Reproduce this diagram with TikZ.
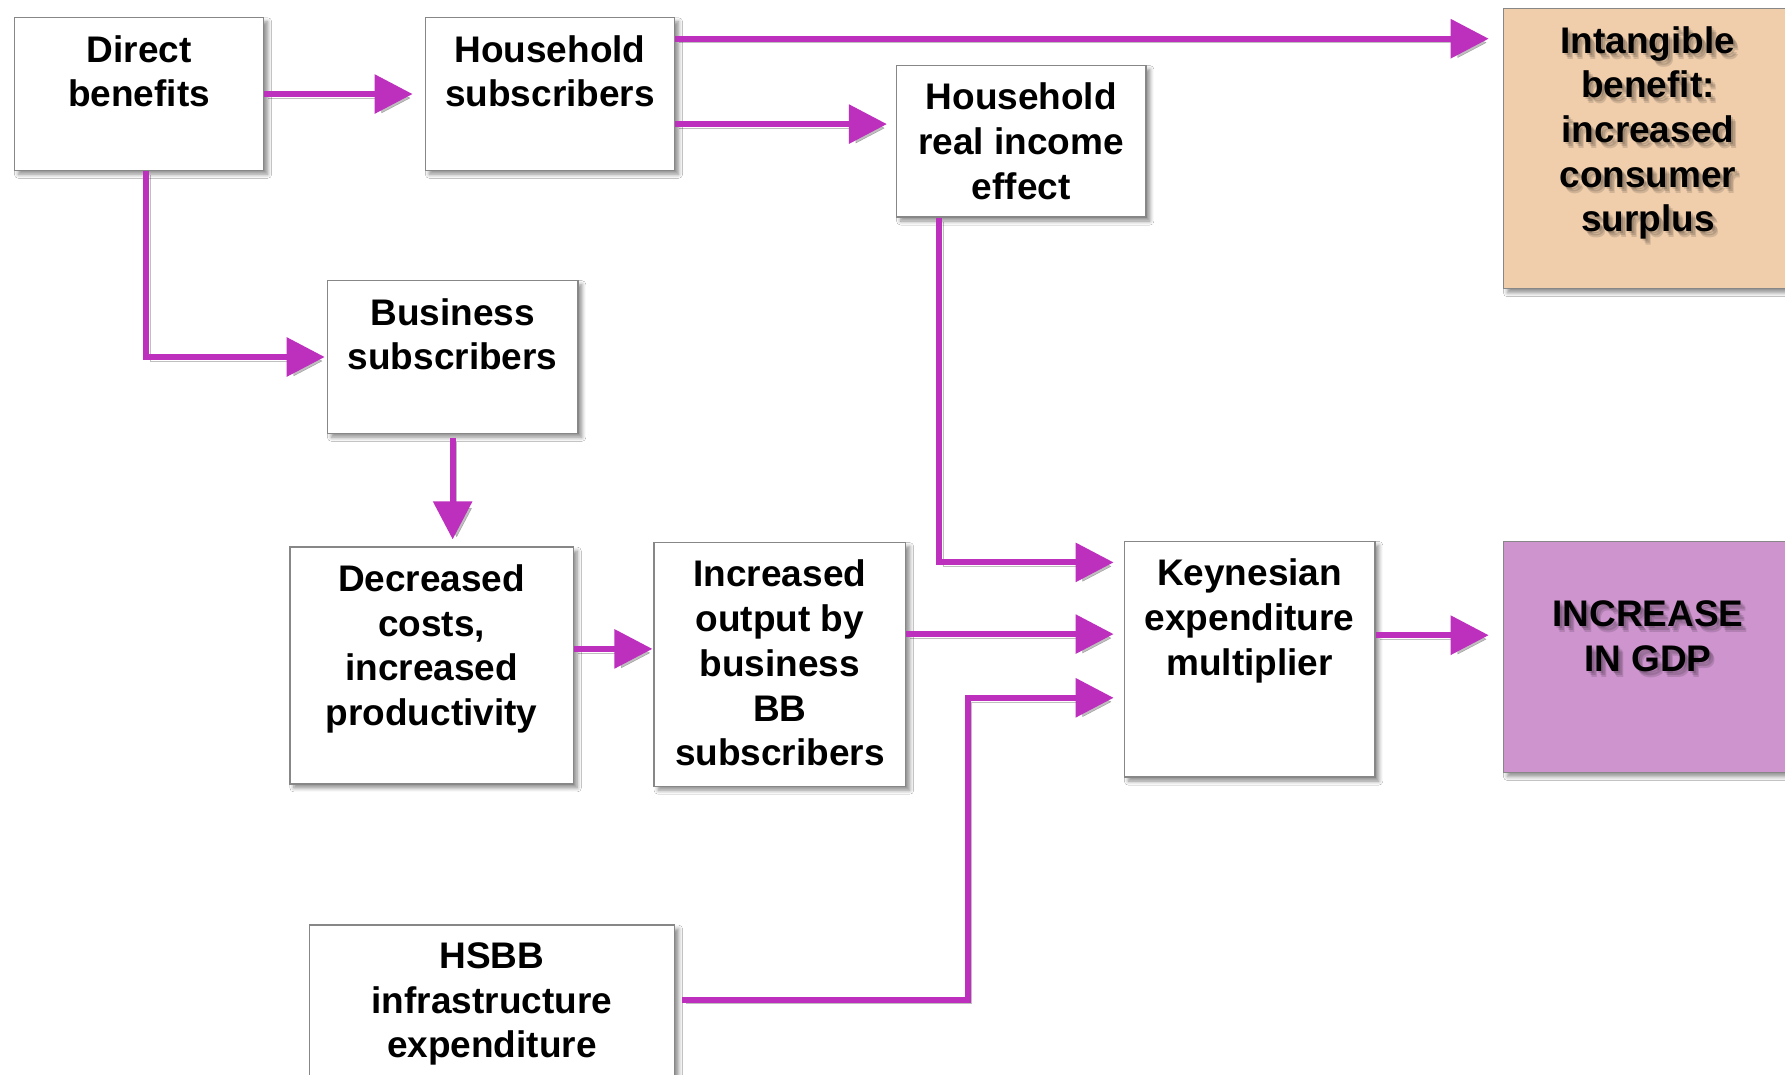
\documentclass[tikz,border=0pt]{standalone}
\usepackage{fontspec}
\setmainfont{Liberation Sans}
\usetikzlibrary{arrows.meta,shadows,shadows.blur}
\definecolor{arr}{RGB}{189,47,189}
\definecolor{tanfill}{RGB}{240,206,172}
\definecolor{gdpfill}{RGB}{205,148,205}
\definecolor{edgec}{RGB}{135,135,135}
\begin{document}
\begin{tikzpicture}[x=1pt,y=-1pt,
  box/.style={draw=edgec, line width=1.4pt, fill=white, inner sep=0pt, anchor=north west,
    blur shadow={shadow xshift=4pt, shadow yshift=-4pt, shadow blur radius=4pt,
      shadow blur steps=6, shadow opacity=45}},
  txt/.style={font=\bfseries\fontsize{37}{44.7}\selectfont, align=center, inner sep=0pt, anchor=north},
  txtshadow/.style={txt, text=black, opacity=0.13},
  arrow/.style={draw=arr, line width=6pt, -{Triangle[length=38pt,width=38pt]},
    preaction={draw=black, opacity=0.25, transform canvas={shift={(4pt,-4pt)}}}}
]
\useasboundingbox (0,0) rectangle (1785,1075);
\clip (0,0) rectangle (1785,1075);
\fill[white] (0,0) rectangle (1785,1075);

% boxes
\node[box, minimum width=249.3pt, minimum height=152.5pt] (db) at (13.7,17.1) {};
\node[box, minimum width=249.3pt, minimum height=152.5pt] (hs) at (424.6,17.1) {};
\node[box, minimum width=249.3pt, minimum height=151.4pt] (ri) at (895.9,64.9) {};
\node[box, fill=tanfill, minimum width=289pt, minimum height=280pt] (ib) at (1502.7,8) {};
\node[box, minimum width=250.5pt, minimum height=152.6pt] (bs) at (326.7,280) {};
\node[box, minimum width=283.4pt, minimum height=236.8pt] (dc) at (289.2,546.4) {};
\node[box, minimum width=251.6pt, minimum height=243.6pt] (io) at (653.4,541.9) {};
\node[box, minimum width=250.5pt, minimum height=235.7pt] (ky) at (1123.6,540.7) {};
\node[box, fill=gdpfill, minimum width=289pt, minimum height=231.1pt] (gdp) at (1502.7,540.7) {};
\node[box, minimum width=365.4pt, minimum height=170pt] (hb) at (308.5,924.4) {};

% texts
\node[txt] (dbt) at ([yshift=-18pt]db.north) {Direct\\benefits};
\node[txt] (hst) at ([yshift=-18pt]hs.north) {Household\\subscribers};
\node[txt] (rit) at ([yshift=-18pt]ri.north) {Household\\real income\\effect};
\node[txtshadow] (ibs1) at ([xshift=2pt,yshift=-20pt]ib.north) {Intangible\\benefit:\\increased\\consumer\\surplus};
\node[txtshadow] (ibs2) at ([xshift=4pt,yshift=-22pt]ib.north) {Intangible\\benefit:\\increased\\consumer\\surplus};
\node[txtshadow] (ibs3) at ([xshift=5pt,yshift=-24pt]ib.north) {Intangible\\benefit:\\increased\\consumer\\surplus};
\node[txt] (ibt) at ([yshift=-18pt]ib.north) {Intangible\\benefit:\\increased\\consumer\\surplus};
\node[txt] (bst) at ([yshift=-18pt]bs.north) {Business\\subscribers};
\node[txt] (dct) at ([yshift=-18pt]dc.north) {Decreased\\costs,\\increased\\productivity};
\node[txt] (iot) at ([yshift=-18pt]io.north) {Increased\\output by\\business\\BB\\subscribers};
\node[txt] (kyt) at ([yshift=-18pt]ky.north) {Keynesian\\expenditure\\multiplier};
\node[txtshadow] (gdps1) at ([xshift=2pt,yshift=-62pt]gdp.north) {INCREASE\\IN GDP};
\node[txtshadow] (gdps2) at ([xshift=4pt,yshift=-64pt]gdp.north) {INCREASE\\IN GDP};
\node[txtshadow] (gdps3) at ([xshift=5pt,yshift=-66pt]gdp.north) {INCREASE\\IN GDP};
\node[txt] (gdpt) at ([yshift=-60pt]gdp.north) {INCREASE\\IN GDP};
\node[txt] (hbt) at ([yshift=-18pt]hb.north) {HSBB\\infrastructure\\expenditure};

% connectors
\draw[arrow, shorten >=12pt] (db.east) -- (db.east -| hs.west);
\draw[arrow, shorten >=14pt] (hs.east |- 0,38.7) -- (ib.west |- 0,38.7);
\draw[arrow, shorten >=9pt] (hs.east |- 0,124.1) -- (ri.west |- 0,124.1);
\draw[arrow, shorten >=2pt] (db.south -| 145.7,0) |- (bs.west);
\draw[arrow, shorten <=4pt, shorten >=7pt] (bs.south) -- (bs.south |- dc.north);
\draw[arrow, shorten >=10pt] (ri.south -| 939.2,0) |- (ky.west |- 0,562.4);
\draw[arrow, shorten >=1pt] (dc.east |- 0,648.9) -- (io.west |- 0,648.9);
\draw[arrow, shorten >=10pt] (io.east |- 0,634.1) -- (ky.west |- 0,634.1);
\draw[arrow, shorten <=7pt, shorten >=10pt] (hb.east |- 0,999.5) -| (967.6,697.8) -- (ky.west |- 0,697.8);
\draw[arrow, shorten >=14pt] (ky.east |- 0,635.2) -- (gdp.west |- 0,635.2);
\end{tikzpicture}
\end{document}
